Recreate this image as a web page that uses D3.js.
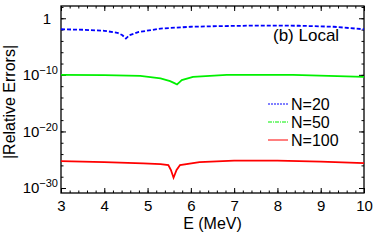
<!DOCTYPE html>
<html>
<head>
<meta charset="utf-8">
<script src="https://cdn.jsdelivr.net/npm/d3@7"></script>
<style>
  body { margin: 0; background: #fff; }
  svg { display: block; font-family: "Liberation Sans", Arial, sans-serif; }
  .axis path { display: none; }
  .axis line { stroke: #000; stroke-width: 1; }
</style>
</head>
<body>
<svg width="374" height="240"></svg>
<script>
// energies (MeV) and log10 of |relative error| for each N
var n20E   = [3, 3.5, 4, 4.3, 4.42, 4.5, 4.58, 4.8, 5.3, 6, 6.5, 7.5, 8.5, 9.3, 10];
var n20Log = [-1.94, -2.03, -2.21, -2.56, -3.0, -3.58, -3.0, -2.42, -1.82, -1.5, -1.41, -1.29, -1.32, -1.5, -1.94];

var n50E   = [3, 4, 4.83, 5.3, 5.52, 5.62, 5.68, 5.74, 5.79, 6.05, 6.83, 8.36, 10];
var n50Log = [-10.0, -10.06, -10.18, -10.64, -11.12, -11.47, -11.7, -11.29, -10.94, -10.36, -10.0, -10.0, -10.36];

var n100E   = [3, 4, 4.9, 5.3, 5.48, 5.54, 5.6, 5.67, 5.75, 6.2, 7, 8, 9, 10];
var n100Log = [-25.23, -25.41, -25.64, -25.76, -25.94, -26.82, -28.18, -26.82, -25.94, -25.41, -25.15, -25.15, -25.32, -25.59];

var xTicks = [3, 4, 5, 6, 7, 8, 9, 10];
var yTicks = [0, -10, -20, -30];   // exponents
var seriesNames = ["N=20", "N=50", "N=100"];

var svg = d3.select("svg"),
    margin = {top: 6, right: 10, bottom: 47, left: 61},
    width = 374 - margin.left - margin.right,
    height = 240 - margin.top - margin.bottom;

var g = svg.append("g")
    .attr("transform", "translate(" + margin.left + "," + margin.top + ")");

var x = d3.scaleLinear().domain([3, 10]).range([0, width]);
var y = d3.scaleLog().domain([Math.pow(10, -30.88), Math.pow(10, 2.17)]).range([height, 0]);

var minorX = d3.range(3, 10.001, 0.2);
var minorY = d3.range(-30, 2.01, 2).map(function(e) { return Math.pow(10, e); });
var majorY = yTicks.map(function(e) { return Math.pow(10, e); });

// bottom axis
g.append("g").attr("class", "axis")
    .attr("transform", "translate(0," + height + ")")
    .call(d3.axisBottom(x).tickValues(minorX).tickSize(-2.5).tickFormat(""));
g.append("g").attr("class", "axis")
    .attr("transform", "translate(0," + height + ")")
    .call(d3.axisBottom(x).tickValues(xTicks).tickSize(-5).tickPadding(7).tickFormat(d3.format("d")))
    .selectAll("text").attr("font-size", 15).attr("fill", "#000").attr("font-family", null);

// top axis
g.append("g").attr("class", "axis")
    .call(d3.axisTop(x).tickValues(minorX).tickSize(-2.5).tickFormat(""));
g.append("g").attr("class", "axis")
    .call(d3.axisTop(x).tickValues(xTicks).tickSize(-5).tickFormat(""));

// left axis
g.append("g").attr("class", "axis")
    .call(d3.axisLeft(y).tickValues(minorY).tickSize(-2.5).tickFormat(""));
var yAx = g.append("g").attr("class", "axis")
    .call(d3.axisLeft(y).tickValues(majorY).tickSize(-5).tickPadding(3).tickFormat(""));
yAx.selectAll(".tick text").each(function(d) {
  var t = d3.select(this).attr("font-size", 15).attr("fill", "#000").attr("font-family", null);
  var e = Math.round(Math.log10(d));
  if (e === 0) {
    t.text("1").attr("x", -10);
  } else {
    t.text("");
    t.append("tspan").text("10");
    t.append("tspan").text("\u2212" + (-e)).attr("font-size", 11).attr("dy", "-0.55em");
  }
});

// right axis
g.append("g").attr("class", "axis")
    .attr("transform", "translate(" + width + ",0)")
    .call(d3.axisRight(y).tickValues(minorY).tickSize(-2.5).tickFormat(""));
g.append("g").attr("class", "axis")
    .attr("transform", "translate(" + width + ",0)")
    .call(d3.axisRight(y).tickValues(majorY).tickSize(-5).tickFormat(""));

// frame
g.append("rect")
    .attr("width", width).attr("height", height)
    .attr("fill", "none").attr("stroke", "#000").attr("stroke-width", 1.3);

// lines
var line = d3.line()
    .x(function(d) { return x(d[0]); })
    .y(function(d) { return y(Math.pow(10, d[1])); });

var series = [
  {name: seriesNames[0], e: n20E, v: n20Log, color: "#0000ff", dash: "4,2"},
  {name: seriesNames[1], e: n50E, v: n50Log, color: "#00f000", dash: null},
  {name: seriesNames[2], e: n100E, v: n100Log, color: "#ff0000", dash: null}
];

series.forEach(function(s) {
  g.append("path")
      .datum(d3.zip(s.e, s.v))
      .attr("fill", "none")
      .attr("stroke", s.color)
      .attr("stroke-width", 1.8)
      .attr("stroke-dasharray", s.dash)
      .attr("d", line);
});

// legend
var legend = svg.append("g").attr("transform", "translate(268,104)");
var legendDash = ["2,1", "4,1,1,1", null];
series.forEach(function(s, i) {
  var row = legend.append("g").attr("transform", "translate(0," + (i * 18) + ")");
  row.append("line")
      .attr("x1", 0).attr("x2", 20)
      .attr("stroke", s.color).attr("stroke-width", 1)
      .attr("stroke-dasharray", legendDash[i]);
  row.append("text")
      .attr("x", 23).attr("y", 0).attr("dy", "0.35em")
      .attr("font-size", 16)
      .text(s.name);
});

// panel label
svg.append("text")
    .attr("x", 273).attr("y", 41)
    .attr("font-size", 17)
    .text("(b) Local");

// axis titles
svg.append("text")
    .attr("x", margin.left + width / 2).attr("y", 229)
    .attr("text-anchor", "middle")
    .attr("font-size", 16)
    .text("E (MeV)");

svg.append("text")
    .attr("transform", "translate(15,102) rotate(-90)")
    .attr("text-anchor", "middle")
    .attr("font-size", 16)
    .text("|Relative Errors|");
</script>
</body>
</html>
